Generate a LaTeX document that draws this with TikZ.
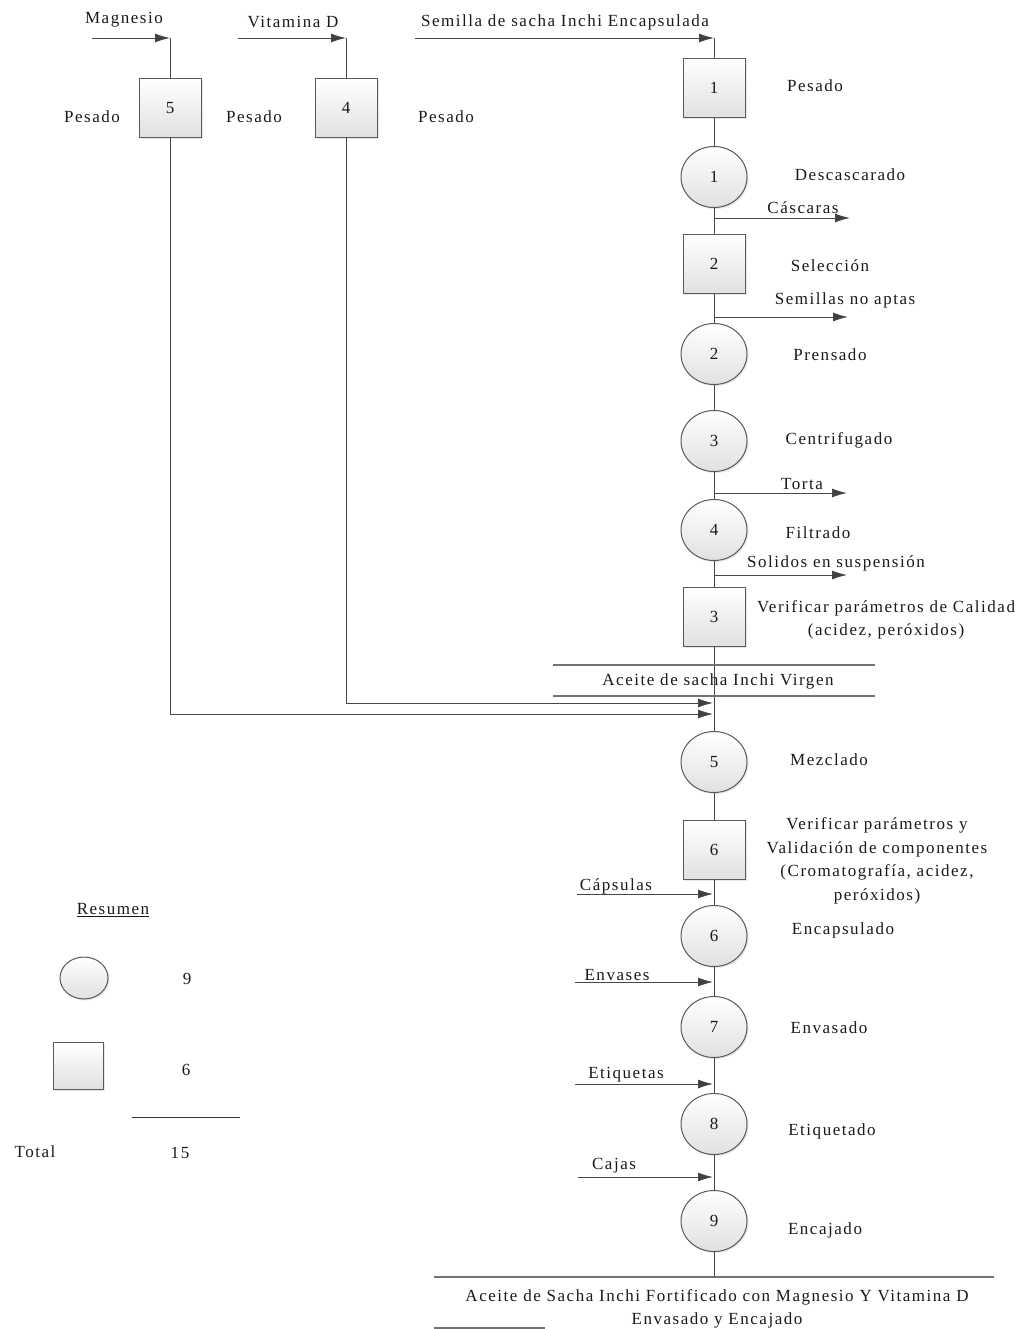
\documentclass[tikz,border=0pt]{standalone}
\usepackage{fontspec}
\setmainfont{Liberation Serif}[LetterSpace=9]
\usetikzlibrary{arrows.meta,shapes.geometric,shadows}
\begin{document}
\begin{tikzpicture}[x=1pt,y=-1pt,
  every node/.style={font=\fontsize{17}{23.5}\selectfont, text=black!90, inner sep=0pt},
  flow/.style={draw=black!72, line width=0.9pt},
  feed/.style={flow, -{Latex[length=15pt,width=9pt,fill=black!75]}},
  opbox/.style={rectangle, draw=black!65, line width=1pt, top color=white, bottom color=black!12,
    minimum width=62pt, minimum height=59pt, drop shadow={opacity=0.2, shadow xshift=1.5pt, shadow yshift=-1.5pt}},
  opcirc/.style={ellipse, draw=black!65, line width=1pt, top color=white, bottom color=black!12,
    minimum width=66pt, minimum height=61pt, drop shadow={opacity=0.2, shadow xshift=1.5pt, shadow yshift=-1.5pt}},
  rule/.style={draw=black!55, line width=1.6pt},
  lbl/.style={align=center}]
\useasboundingbox (0,0) rectangle (1026,1329);

% ---- main line of operations ----
\node[opbox]  (b1) at (714,88)  {1};
\node[opcirc] (c1) at (714,177) {1};
\node[opbox]  (b2) at (714,264) {2};
\node[opcirc] (c2) at (714,354) {2};
\node[opcirc] (c3) at (714,441) {3};
\node[opcirc] (c4) at (714,530) {4};
\node[opbox]  (b3) at (714,617) {3};
\node[opcirc] (c5) at (714,762) {5};
\node[opbox]  (b6) at (714,850) {6};
\node[opcirc] (c6) at (714,936) {6};
\node[opcirc] (c7) at (714,1027) {7};
\node[opcirc] (c8) at (714,1124) {8};
\node[opcirc] (c9) at (714,1221) {9};

% ---- side operations ----
\node[opbox] (b5) at (170,108) {5};
\node[opbox] (b4) at (346,108) {4};

% ---- operation names ----
\node at (92,117)  {Pesado};
\node at (254,117) {Pesado};
\node at (446,117) {Pesado};
\node at (815,86)  {Pesado};
\node at (850,175) {Descascarado};
\node at (830,266) {Selección};
\node at (830,355) {Prensado};
\node at (839,440) {Centrifugado};
\node at (818,533) {Filtrado};
\node[lbl] at (886,620) {Verificar parámetros de Calidad\\(acidez, peróxidos)};
\node at (829,760) {Mezclado};
\node[lbl] at (877,861) {Verificar parámetros y\\Validación de componentes\\(Cromatografía, acidez,\\peróxidos)};
\node at (843,930) {Encapsulado};
\node at (829,1028) {Envasado};
\node at (832,1131) {Etiquetado};
\node at (825,1230) {Encajado};

% ---- raw material inputs ----
\node (tMg)  at (124,20) {Magnesio};
\node (tVit) at (293,22) {Vitamina D};
\node (tSem) at (565,22) {Semilla de sacha Inchi Encapsulada};
\coordinate (mgIn)  at (92,38);
\coordinate (mgT)   at (170,38);
\coordinate (vitIn) at (238,38);
\coordinate (vitT)  at (346,38);
\coordinate (semIn) at (415,38);
\coordinate (semT)  at (714,38);
\draw[feed] (mgIn) -- (mgT);
\draw[flow] (mgT) -- (b5.north);
\draw[feed] (vitIn) -- (vitT);
\draw[flow] (vitT) -- (b4.north);
\draw[feed] (semIn) -- (semT);
\draw[flow] (semT) -- (b1.north);

% ---- vertical flow ----
\draw[flow] (b1.south) -- (c1.north);
\draw[flow] (c1.south) -- (b2.north);
\draw[flow] (b2.south) -- (c2.north);
\draw[flow] (c2.south) -- (c3.north);
\draw[flow] (c3.south) -- (c4.north);
\draw[flow] (c4.south) -- (b3.north);
\draw[flow] (b3.south) -- (c5.north);
\draw[flow] (c5.south) -- (b6.north);
\draw[flow] (b6.south) -- (c6.north);
\draw[flow] (c6.south) -- (c7.north);
\draw[flow] (c7.south) -- (c8.north);
\draw[flow] (c8.south) -- (c9.north);

% ---- by-products ----
\coordinate (oCas)  at (714,218);  \coordinate (eCas)  at (850,218);
\coordinate (oSem)  at (714,317);  \coordinate (eSem)  at (848,317);
\coordinate (oTor)  at (714,493);  \coordinate (eTor)  at (847,493);
\coordinate (oSol)  at (714,575);  \coordinate (eSol)  at (847,575);
\draw[feed] (oCas) -- (eCas);
\draw[feed] (oSem) -- (eSem);
\draw[feed] (oTor) -- (eTor);
\draw[feed] (oSol) -- (eSol);
\node at (803,208) {Cáscaras};
\node at (845,300) {Semillas no aptas};
\node at (802,484) {Torta};
\node at (836,563) {Solidos en suspensión};

% ---- intermediate product ----
\coordinate (vL1) at (553,665); \coordinate (vR1) at (875,665);
\coordinate (vL2) at (553,696); \coordinate (vR2) at (875,696);
\draw[rule] (vL1) -- (vR1);
\draw[rule] (vL2) -- (vR2);
\node at (718,681) {Aceite de sacha Inchi Virgen};

% ---- additives joining the oil ----
\coordinate (vitJ) at (713,703);
\coordinate (mgJ)  at (713,714);
\draw[feed] (b4.south) |- (vitJ);
\draw[feed] (b5.south) |- (mgJ);

% ---- packaging inputs ----
\coordinate (capIn) at (577,894);  \coordinate (capJ) at (713,894);
\coordinate (envIn) at (575,982);  \coordinate (envJ) at (713,982);
\coordinate (etqIn) at (575,1084); \coordinate (etqJ) at (713,1084);
\coordinate (cajIn) at (578,1177); \coordinate (cajJ) at (713,1177);
\draw[feed] (capIn) -- (capJ);
\draw[feed] (envIn) -- (envJ);
\draw[feed] (etqIn) -- (etqJ);
\draw[feed] (cajIn) -- (cajJ);
\node at (616,886)  {Cápsulas};
\node at (617,975)  {Envases};
\node at (626,1075) {Etiquetas};
\node at (614,1166) {Cajas};

% ---- final product ----
\coordinate (fL) at (434,1277); \coordinate (fR) at (994,1277);
\coordinate (fA) at (714,1277);
\draw[flow] (c9.south) -- (fA);
\draw[rule] (fL) -- (fR);
\node[lbl] at (717,1309) {Aceite de Sacha Inchi Fortificado con Magnesio Y Vitamina D\\Envasado y Encajado};
\coordinate (gL) at (434,1328); \coordinate (gR) at (545,1328);
\draw[rule] (gL) -- (gR);

% ---- summary ----
\node (res) at (113,910) {\underline{Resumen}};
\node[opcirc, minimum width=48pt, minimum height=42pt] (lc) at (84,978) {};
\node (n9) at (187,979) {9};
\node[opbox, minimum width=50pt, minimum height=47pt] (lb) at (78,1066) {};
\node (n6) at (186,1070) {6};
\coordinate (sL) at (132,1117); \coordinate (sR) at (240,1117);
\draw[draw=black!80, line width=0.9pt] (sL) -- (sR);
\node (tot) at (35,1152) {Total};
\node (n15) at (180,1153) {15};
\end{tikzpicture}
\end{document}
